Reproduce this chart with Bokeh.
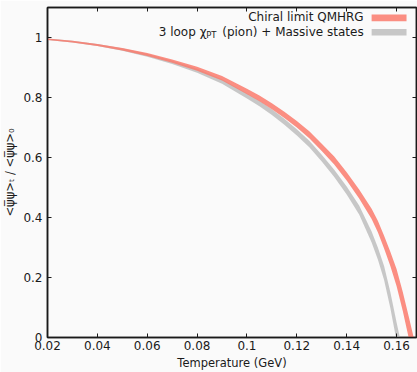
import numpy as np
from bokeh.plotting import figure
from bokeh.models import LinearAxis, FixedTicker, Label, BoxAnnotation
from bokeh.embed import file_html
from bokeh.resources import INLINE

# ---- data ----
T_red = [0.02, 0.03, 0.04, 0.05, 0.06, 0.07, 0.08, 0.09, 0.10, 0.105, 0.11, 0.115,
         0.12, 0.125, 0.13, 0.135, 0.14, 0.145, 0.15, 0.1525, 0.155, 0.1575, 0.16,
         0.1625, 0.165, 0.168]
red_mid = [0.994, 0.986, 0.975, 0.961, 0.943, 0.921, 0.896, 0.864, 0.820, 0.797, 0.771, 0.742,
           0.711, 0.676, 0.634, 0.590, 0.537, 0.478, 0.412, 0.370, 0.318, 0.262, 0.200,
           0.120, 0.030, -0.080]
red_half = [0.0025, 0.003, 0.0035, 0.004, 0.005, 0.0055, 0.0065, 0.0075, 0.009, 0.0095, 0.010, 0.0105,
            0.011, 0.0115, 0.012, 0.013, 0.014, 0.015, 0.017, 0.019, 0.021, 0.024, 0.028,
            0.032, 0.036, 0.04]

T_grey = [0.02, 0.03, 0.04, 0.05, 0.06, 0.07, 0.08, 0.09, 0.10, 0.105, 0.11, 0.115,
          0.12, 0.125, 0.13, 0.135, 0.14, 0.145, 0.15, 0.1525, 0.155, 0.1575, 0.16, 0.163]
grey_mid = [0.994, 0.986, 0.975, 0.960, 0.941, 0.917, 0.889, 0.853, 0.805, 0.780, 0.751, 0.719,
            0.684, 0.645, 0.598, 0.547, 0.490, 0.425, 0.335, 0.280, 0.215, 0.125, 0.020, -0.100]
grey_half = [0.0025, 0.003, 0.0035, 0.004, 0.005, 0.0055, 0.0065, 0.0075, 0.0085, 0.009, 0.0095, 0.010,
             0.0105, 0.011, 0.0115, 0.012, 0.013, 0.015, 0.018, 0.020, 0.023, 0.027, 0.031, 0.035]

x_ticks = [0.02, 0.04, 0.06, 0.08, 0.10, 0.12, 0.14, 0.16]
x_tick_labels = ["0.02", "0.04", "0.06", "0.08", "0.1", "0.12", "0.14", "0.16"]
y_ticks = [0, 0.2, 0.4, 0.6, 0.8, 1.0]
y_tick_labels = ["0", "0.2", "0.4", "0.6", "0.8", "1"]

series_names = ["Chiral limit QMHRG", "3 loop \u03c7", "PT", "(pion) + Massive states"]
x_title = "Temperature (GeV)"
y_title = "<\u03c8\u0305\u03c8>\u209c / <\u03c8\u0305\u03c8>\u2080"

FONT = "DejaVu Sans"
RED = "#fa7a6c"
GREY = "#c4c4c4"
BG = "#fafafa"
INK = "#1a1a1a"

p = figure(width=417, height=372, x_range=(0.02, 0.168), y_range=(0, 1.1),
           output_backend="svg", toolbar_location=None,
           min_border_left=46, min_border_right=1, min_border_top=7, min_border_bottom=35,
           background_fill_color=BG, border_fill_color=BG)
p.grid.visible = False
p.outline_line_color = INK
p.outline_line_width = 1.5

bottom = p.below[0]
left = p.left[0]

rm, rh = np.array(red_mid), np.array(red_half)
gm, gh = np.array(grey_mid), np.array(grey_half)
p.varea(x=T_grey, y1=gm - gh, y2=gm + gh, fill_color=GREY, fill_alpha=0.95)
p.varea(x=T_red, y1=rm - rh, y2=rm + rh, fill_color=RED, fill_alpha=0.85)

xt = FixedTicker(ticks=x_ticks)
yt = FixedTicker(ticks=y_ticks)

bottom.ticker = xt
bottom.major_label_overrides = {t: l for t, l in zip(x_ticks, x_tick_labels)}
bottom.axis_label = x_title
left.ticker = yt
left.major_label_overrides = {t: l for t, l in zip(y_ticks, y_tick_labels)}
left.axis_label = y_title

top = LinearAxis(ticker=xt, major_label_text_color=None, major_label_standoff=0)
right = LinearAxis(ticker=yt, major_label_text_color=None, major_label_standoff=0)
p.add_layout(top, "above")
p.add_layout(right, "right")

for ax in [bottom, left, top, right]:
    ax.major_tick_in = 4
    ax.major_tick_out = 0
    ax.minor_tick_line_color = None
    ax.axis_line_color = INK
    ax.axis_line_width = 1.5
    ax.major_tick_line_color = INK
    ax.major_tick_line_width = 1
for ax in [bottom, left]:
    ax.major_label_text_font = FONT
    ax.major_label_text_color = INK
    ax.major_label_text_font_size = "12px"
    ax.axis_label_text_font = FONT
    ax.axis_label_text_font_style = "normal"
    ax.axis_label_text_color = INK
    ax.axis_label_text_font_size = "11.5px"
bottom.major_label_standoff = 3
bottom.axis_label_standoff = 3
left.major_label_standoff = 5
left.axis_label_standoff = 3

# legend (text right-aligned, swatches on the right)
def lab(x, y, text, size="12px"):
    p.add_layout(Label(x=x, y=y, text=text, text_align="right", text_baseline="middle",
                       text_font=FONT, text_font_size=size, text_color=INK))

lab(0.1468, 1.0667, series_names[0])
lab(0.1468, 1.0167, series_names[3])
lab(0.0878, 1.0067, series_names[2], "8.5px")
lab(0.0838, 1.0167, series_names[1])
p.add_layout(BoxAnnotation(left=0.150, right=0.164, bottom=1.0543, top=1.0767,
                           fill_color=RED, fill_alpha=0.85, line_color=None))
p.add_layout(BoxAnnotation(left=0.150, right=0.164, bottom=1.0067, top=1.0283,
                           fill_color=GREY, fill_alpha=0.95, line_color=None))

open("out.html", "w").write(file_html(p, INLINE))
